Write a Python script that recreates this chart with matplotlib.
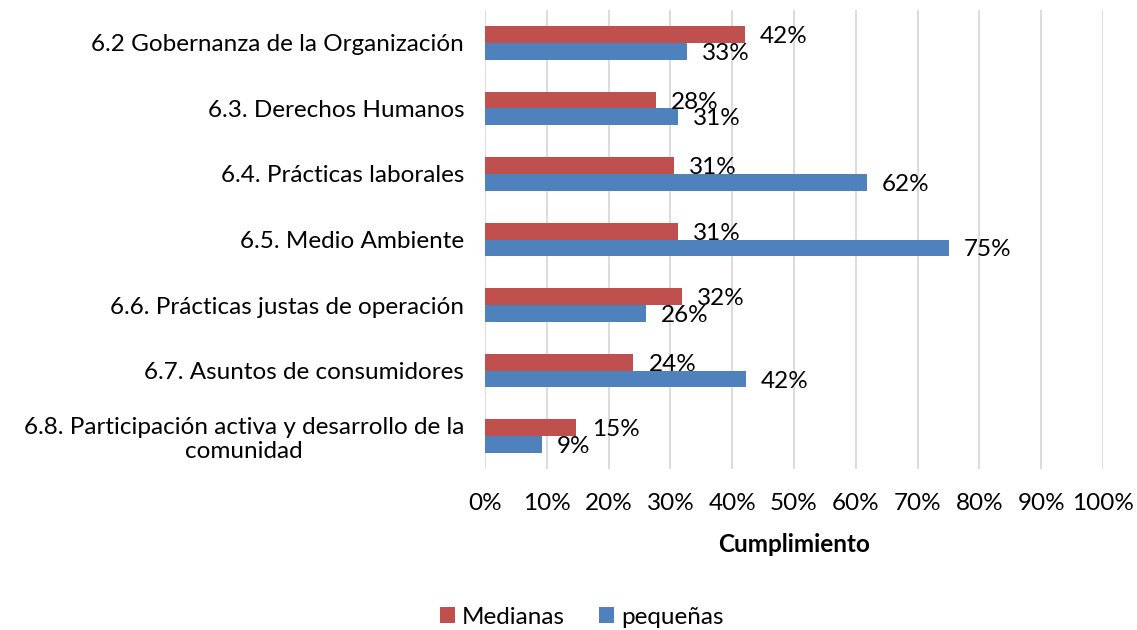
import matplotlib
matplotlib.use('Agg')
from matplotlib import pyplot as plt
import numpy as np

plt.rcParams['font.family'] = ['Lato', 'DejaVu Sans']

# data
categorias = ['6.2 Gobernanza de la Organización',
              '6.3. Derechos Humanos',
              '6.4. Prácticas laborales',
              '6.5. Medio Ambiente',
              '6.6. Prácticas justas de operación',
              '6.7. Asuntos de consumidores',
              '6.8. Participación activa y desarrollo de la\ncomunidad']
medianas = [0.42, 0.276, 0.306, 0.312, 0.319, 0.24, 0.148]
pequenas = [0.327, 0.312, 0.618, 0.75, 0.26, 0.422, 0.092]
xticks = [0, 0.1, 0.2, 0.3, 0.4, 0.5, 0.6, 0.7, 0.8, 0.9, 1.0]

rojo = '#C0504D'
azul = '#4F81BD'
fs = 17.5

fig = plt.figure(figsize=(11.37, 6.3), dpi=100)
ax = fig.add_axes([485/1137, (630-469)/630, (1103-485)/1137, (469-10)/630])

y = np.arange(len(categorias))
h = 0.255
b1 = ax.barh(y - h/2, medianas, height=h, color=rojo, label='Medianas', zorder=3)
b2 = ax.barh(y + h/2, pequenas, height=h, color=azul, label='pequeñas', zorder=3)

# etiquetas de datos
for barras, vals in [(b1, medianas), (b2, pequenas)]:
    for rect, v in zip(barras, vals):
        ax.annotate('{:.0f}%'.format(v*100),
                    (rect.get_width(), rect.get_y() + rect.get_height()/2),
                    xytext=(11, -1.5), textcoords='offset points',
                    ha='left', va='center', fontsize=fs, color='black')

ax.set_xlim(0, 1.0)
ax.set_ylim(len(categorias) - 0.5, -0.5)
ax.set_xticks(xticks)
ax.set_xticklabels(['{:.0f}%'.format(t*100) for t in xticks], fontsize=fs)
ax.set_yticks(y)
ax.set_yticklabels(categorias, fontsize=fs)
for t in ax.get_yticklabels():
    t.set_multialignment('center')
    t.set_linespacing(1.15)
ax.tick_params(axis='both', length=0)
ax.tick_params(axis='x', pad=17)
ax.tick_params(axis='y', pad=15)

ax.grid(axis='x', color='#D9D9D9', linewidth=1.3, zorder=0)
for s in ax.spines.values():
    s.set_visible(False)

ax.set_xlabel('Cumplimiento', fontsize=fs, fontweight='bold', labelpad=14)

fig.legend(handles=[b1, b2], loc='center', bbox_to_anchor=(582/1137, 1 - 617/630),
           ncol=2, frameon=False, fontsize=fs, handlelength=0.62, handleheight=0.62,
           handletextpad=0.3, columnspacing=1.4)

fig.savefig('out.png', dpi=100)
